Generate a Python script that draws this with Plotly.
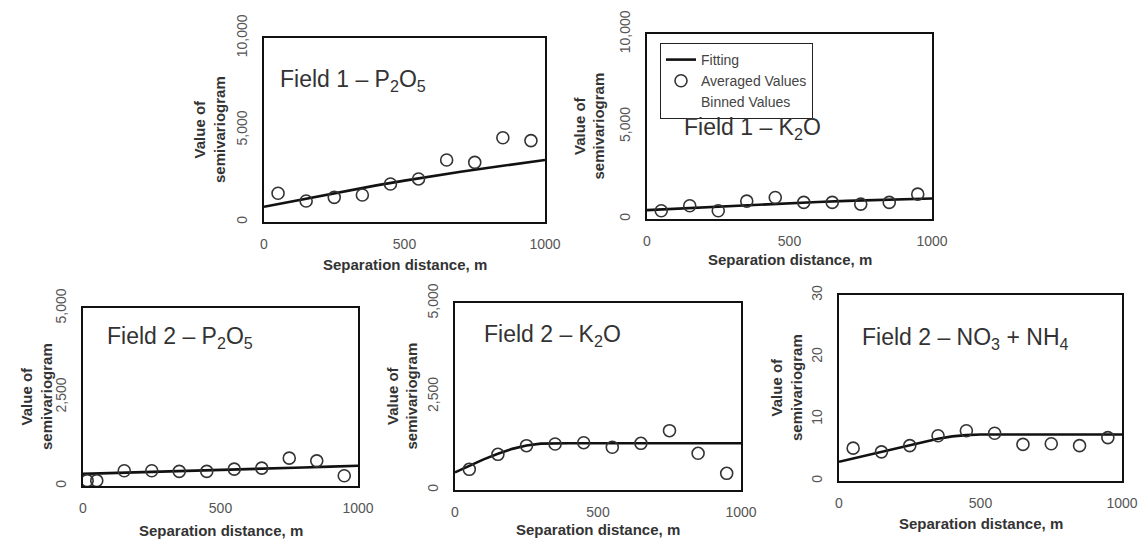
import plotly.graph_objects as go

W, H = 1139, 542

# ---------------- data ----------------
dist = [50, 150, 250, 350, 450, 550, 650, 750, 850, 950]

f1_p2o5_avg = [1560, 1140, 1340, 1470, 2065, 2340, 3370, 3240, 4580, 4420]
f1_p2o5_fit_x = [0, 100, 200, 300, 400, 500, 600, 700, 800, 900, 1000]
f1_p2o5_fit_y = [830, 1130, 1430, 1720, 1990, 2250, 2500, 2730, 2950, 3160, 3370]

f1_k2o_avg = [446, 715, 446, 968, 1165, 896, 896, 806, 896, 1344]
f1_k2o_fit_x = [0, 100, 200, 300, 400, 500, 600, 700, 800, 900, 1000]
f1_k2o_fit_y = [480, 560, 640, 720, 790, 860, 920, 980, 1030, 1075, 1110]

f2_p2o5_x = [15, 50, 150, 250, 350, 450, 550, 650, 750, 850, 950]
f2_p2o5_avg = [150, 150, 427, 427, 410, 410, 475, 503, 782, 707, 288]
f2_p2o5_fit_x = [0, 100, 200, 300, 400, 500, 600, 700, 800, 900, 1000]
f2_p2o5_fit_y = [340, 360, 385, 405, 430, 450, 475, 500, 520, 545, 570]

f2_k2o_avg = [553, 954, 1185, 1230, 1265, 1142, 1248, 1586, 981, 446]
f2_k2o_fit_x = [0, 50, 100, 150, 200, 250, 300, 400, 1000]
f2_k2o_fit_y = [470, 650, 820, 970, 1100, 1190, 1240, 1250, 1250]

f2_n_avg = [5.3, 4.7, 5.7, 7.3, 8.1, 7.7, 5.9, 6.0, 5.7, 7.0]
f2_n_fit_x = [0, 100, 200, 300, 350, 400, 450, 500, 1000]
f2_n_fit_y = [3.1, 4.2, 5.3, 6.3, 6.8, 7.2, 7.4, 7.5, 7.5]

panel_titles = [
    "Field 1 \u2013 P<sub>2</sub>O<sub>5</sub>",
    "Field 1 \u2013 K<sub>2</sub>O",
    "Field 2 \u2013 P<sub>2</sub>O<sub>5</sub>",
    "Field 2 \u2013 K<sub>2</sub>O",
    "Field 2 \u2013 NO<sub>3</sub> + NH<sub>4</sub>",
]
y_ranges = [[0, 10000], [0, 10000], [0, 5000], [0, 5000], [0, 30]]
y_ticks = [[0, 5000, 10000], [0, 5000, 10000], [0, 2500, 5000], [0, 2500, 5000], [0, 10, 20, 30]]
x_ticks = [0, 500, 1000]
x_title = "Separation distance, m"
y_title = "Value of<br>semivariogram"
legend_names = ["Fitting", "Averaged Values", "Binned Values"]

series = [
    (dist, f1_p2o5_avg, f1_p2o5_fit_x, f1_p2o5_fit_y),
    (dist, f1_k2o_avg, f1_k2o_fit_x, f1_k2o_fit_y),
    (f2_p2o5_x, f2_p2o5_avg, f2_p2o5_fit_x, f2_p2o5_fit_y),
    (dist, f2_k2o_avg, f2_k2o_fit_x, f2_k2o_fit_y),
    (dist, f2_n_avg, f2_n_fit_x, f2_n_fit_y),
]

# ---------------- layout (pixel boxes) ----------------
boxes = [  # x0, x1, y0(top), y1(bottom)
    (264, 545, 38, 222),
    (647, 932, 34, 219),
    (83, 358, 308, 486),
    (455, 741, 303, 490),
    (839, 1122, 295, 481),
]
ytitle_x = [210, 589, 36, 402, 786]
xtitle_y = [265, 259, 530, 529, 523]
ptitle_pos = [(278, 80), (682, 128), (105, 337), (482, 335), (860, 338)]


def px(x):
    return x / W


def py(y):
    return 1 - y / H


FONT = "Liberation Sans, Arial, sans-serif"
fig = go.Figure()
layout = {}
annotations = []

for i, (xs, avg, fx, fy) in enumerate(series):
    n = "" if i == 0 else str(i + 1)
    x0, x1, y0, y1 = boxes[i]
    fig.add_trace(go.Scatter(
        x=fx, y=fy, mode="lines", name=legend_names[0],
        line=dict(color="#111", width=2.6), xaxis="x" + n, yaxis="y" + n,
        legendgroup="fit", showlegend=(i == 0)))
    fig.add_trace(go.Scatter(
        x=xs, y=avg, mode="markers", name=legend_names[1],
        marker=dict(symbol="circle-open", size=12, color="#333", line=dict(width=1.6)),
        xaxis="x" + n, yaxis="y" + n, legendgroup="avg", showlegend=(i == 0)))

    layout["xaxis" + n] = dict(
        domain=[px(x0), px(x1)], anchor="y" + n, range=[0, 1000],
        tickvals=x_ticks, tickformat="d", showgrid=False, zeroline=False,
        showline=True, mirror=True, linecolor="#111", linewidth=2,
        ticks="", ticklabelstandoff=8, automargin=False,
        tickfont=dict(family=FONT, size=14, color="#555"))
    layout["yaxis" + n] = dict(
        domain=[py(y1), py(y0)], anchor="x" + n, range=y_ranges[i],
        tickvals=y_ticks[i], tickformat=",d", tickangle=-90,
        showgrid=False, zeroline=False,
        showline=True, mirror=True, linecolor="#111", linewidth=2,
        ticks="", ticklabelstandoff=9, automargin=False,
        tickfont=dict(family=FONT, size=14, color="#555"))

    annotations.append(dict(
        x=px(ytitle_x[i]), y=py((y0 + y1) / 2), xref="paper", yref="paper",
        text="<b>" + y_title + "</b>", textangle=-90, showarrow=False,
        xanchor="center", yanchor="middle",
        font=dict(family=FONT, size=15, color="#333")))
    annotations.append(dict(
        x=px((x0 + x1) / 2), y=py(xtitle_y[i]), xref="paper", yref="paper",
        text="<b>" + x_title + "</b>", showarrow=False,
        xanchor="center", yanchor="middle",
        font=dict(family=FONT, size=15, color="#333")))
    tx, ty = ptitle_pos[i]
    annotations.append(dict(
        x=px(tx), y=py(ty), xref="paper", yref="paper",
        text=panel_titles[i], showarrow=False,
        xanchor="left", yanchor="middle",
        font=dict(family=FONT, size=23, color="#333")))

fig.add_trace(go.Scatter(
    x=[None], y=[None], mode="markers", name=legend_names[2],
    marker=dict(size=2, color="rgba(0,0,0,0)"), xaxis="x2", yaxis="y2",
    legendgroup="bin"))

fig.update_layout(
    width=W, height=H, margin=dict(l=0, r=0, t=0, b=0),
    paper_bgcolor="white", plot_bgcolor="white",
    showlegend=True,
    legend=dict(x=px(660), y=py(43), xanchor="left", yanchor="top",
                bordercolor="#222", borderwidth=1, bgcolor="white",
                font=dict(family=FONT, size=14, color="#444"),
                tracegroupgap=0, itemwidth=30),
    annotations=annotations,
    **layout)

fig.write_html("out.html")
